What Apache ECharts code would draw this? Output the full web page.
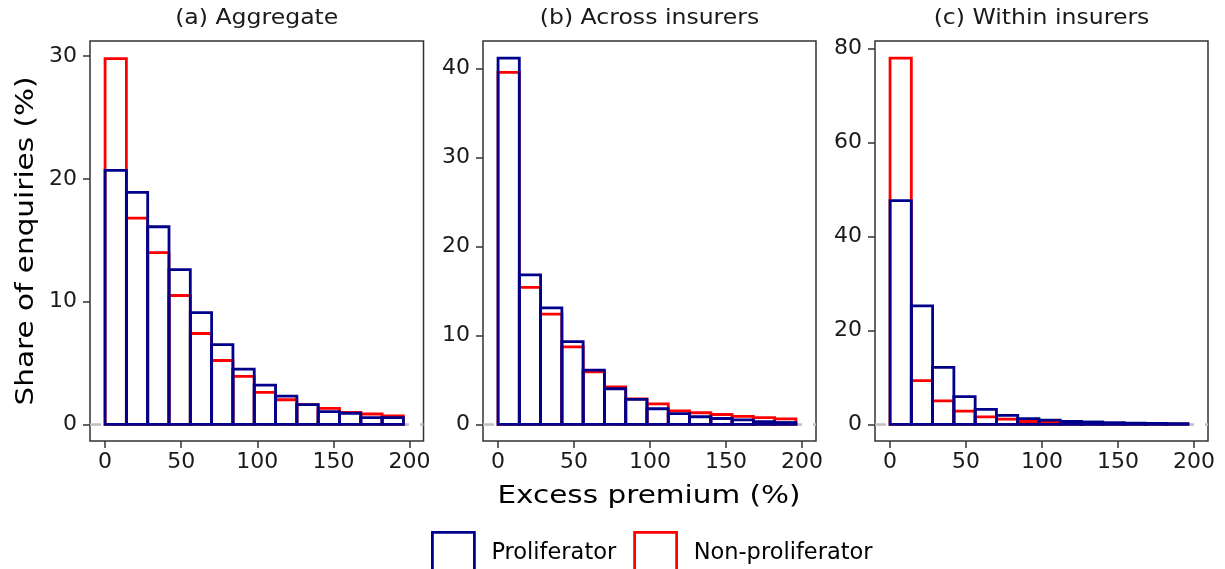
<!DOCTYPE html>
<html>
<head>
<meta charset="utf-8">
<script src="https://cdn.jsdelivr.net/npm/echarts@6/dist/echarts.min.js"></script>
<style>
html,body{margin:0;padding:0;background:#fff;}
#chart{width:1225px;height:569px;}
</style>
</head>
<body>
<div id="chart"></div>
<script>
// Bin starts (excess premium, %) and bin width
const binStarts = [0, 14, 28, 42, 56, 70, 84, 98, 112, 126, 140, 154, 168, 182];
const binWidth = 14;
const xTicks = [0, 50, 100, 150, 200];

// (a) Aggregate
const aggProlif    = [20.7, 18.9, 16.1, 12.6, 9.1, 6.5, 4.5, 3.2, 2.3, 1.6, 1.03, 0.9, 0.54, 0.54];
const aggNonProlif = [29.8, 16.8, 14.0, 10.5, 7.4, 5.2, 3.9, 2.6, 2.0, 1.6, 1.3, 0.98, 0.84, 0.68];
// (b) Across insurers
const acrossProlif    = [41.2, 16.8, 13.1, 9.3, 6.1, 4.0, 2.8, 1.75, 1.2, 0.85, 0.65, 0.5, 0.3, 0.2];
const acrossNonProlif = [39.6, 15.4, 12.4, 8.7, 5.9, 4.2, 2.85, 2.3, 1.5, 1.3, 1.1, 0.9, 0.75, 0.6];
// (c) Within insurers
const withinProlif    = [47.6, 25.2, 12.1, 5.9, 3.2, 1.9, 1.2, 0.9, 0.6, 0.5, 0.35, 0.25, 0.2, 0.15];
const withinNonProlif = [77.9, 9.3, 5.0, 2.8, 1.6, 1.1, 0.6, 0.4, 0.3, 0.2, 0.15, 0.1, 0.1, 0.05];

const panelTitles = ['(a) Aggregate', '(b) Across insurers', '(c) Within insurers'];
const yTicks = [[0, 10, 20, 30], [0, 10, 20, 30, 40], [0, 20, 40, 60, 80]];
const yRanges = [[-1.36, 31.24], [-1.88, 43.12], [-3.55, 81.56]];
const xRange = [-9.9, 209.2];

const BLUE = '#00008B', RED = '#FF0000';
const FONT = 'DejaVu Sans';

const grids = [
  {left: 90, top: 41, width: 333.5, height: 400},
  {left: 483, top: 41, width: 333, height: 400},
  {left: 875, top: 41, width: 333, height: 400}
];

function toBins(vals) {
  return binStarts.map((s, i) => [s, s + binWidth, vals[i]]);
}

function makeRender(color) {
  return function (params, api) {
    const x0 = api.value(0), x1 = api.value(1), v = api.value(2);
    const p0 = api.coord([x0, v]);
    const p1 = api.coord([x1, 0]);
    return {
      type: 'rect',
      shape: {x: p0[0], y: p0[1], width: p1[0] - p0[0], height: p1[1] - p0[1]},
      style: {fill: 'none', stroke: color, lineWidth: 2.8}
    };
  };
}

const panels = [
  [aggProlif, aggNonProlif],
  [acrossProlif, acrossNonProlif],
  [withinProlif, withinNonProlif]
];

const xAxes = [], yAxes = [], series = [];
panels.forEach((p, i) => {
  xAxes.push({
    type: 'value', gridIndex: i, min: xRange[0], max: xRange[1],
    axisLine: {show: false, onZero: false},
    splitLine: {show: false},
    axisTick: {show: true, length: 7, lineStyle: {color: '#333', width: 1.5}, customValues: xTicks},
    axisLabel: {show: true, margin: 10, fontSize: 22, fontFamily: FONT, color: '#1a1a1a', customValues: xTicks}
  });
  yAxes.push({
    type: 'value', gridIndex: i, min: yRanges[i][0], max: yRanges[i][1],
    axisLine: {show: false, onZero: false},
    splitLine: {show: false},
    axisTick: {show: true, length: 7, lineStyle: {color: '#333', width: 1.5}, customValues: yTicks[i]},
    axisLabel: {show: true, margin: 13, fontSize: 22, fontFamily: FONT, color: '#1a1a1a', customValues: yTicks[i]}
  });
  series.push({
    type: 'custom', name: 'Non-proliferator', xAxisIndex: i, yAxisIndex: i,
    renderItem: makeRender(RED), itemStyle: {color: RED},
    encode: {x: [0, 1], y: 2},
    data: toBins(p[1]), z: 2, clip: false,
    markLine: {
      silent: true, symbol: 'none', label: {show: false}, z: 1,
      lineStyle: {color: '#BEBEBE', width: 2.6, type: [11, 11]},
      data: [{yAxis: 0}]
    }
  });
  series.push({
    type: 'custom', name: 'Proliferator', xAxisIndex: i, yAxisIndex: i,
    renderItem: makeRender(BLUE), itemStyle: {color: BLUE},
    encode: {x: [0, 1], y: 2},
    data: toBins(p[0]), z: 3, clip: false
  });
});

const graphics = [];
const centers = grids.map(g => g.left + g.width / 2);
panelTitles.forEach((t, i) => {
  graphics.push({
    type: 'text', x: centers[i], y: 19, scaleX: 1.15,
    style: {text: t, fontSize: 20.5, fontFamily: FONT, fill: '#1a1a1a', align: 'center', verticalAlign: 'middle'}
  });
});
graphics.push({
  type: 'text', x: 649, y: 496, scaleX: 1.18,
  style: {text: 'Excess premium (%)', fontSize: 25, fontFamily: FONT, fill: '#000', align: 'center', verticalAlign: 'middle'}
});
graphics.push({
  type: 'text', x: 26, y: 241, rotation: Math.PI / 2, scaleX: 1.18,
  style: {text: 'Share of enquiries (%)', fontSize: 25, fontFamily: FONT, fill: '#000', align: 'center', verticalAlign: 'middle'}
});

const option = {
  animation: false,
  backgroundColor: '#fff',
  grid: grids.map(g => Object.assign({show: true, borderColor: '#333', borderWidth: 1.5, backgroundColor: 'transparent'}, g)),
  xAxis: xAxes,
  yAxis: yAxes,
  series: series,
  legend: {
    left: 426, top: 526, orient: 'horizontal', icon: 'rect',
    itemWidth: 42, itemHeight: 42, itemGap: 17,
    selectedMode: false,
    textStyle: {fontSize: 22.5, fontFamily: FONT, color: '#000', padding: [0, 0, 0, 12]},
    data: [
      {name: 'Proliferator', itemStyle: {color: 'rgba(0,0,0,0)', borderColor: BLUE, borderWidth: 2.8}},
      {name: 'Non-proliferator', itemStyle: {color: 'rgba(0,0,0,0)', borderColor: RED, borderWidth: 2.8}}
    ]
  },
  graphic: graphics
};

const chart = echarts.init(document.getElementById('chart'), null, {renderer: 'canvas'});
chart.setOption(option);
</script>
</body>
</html>
